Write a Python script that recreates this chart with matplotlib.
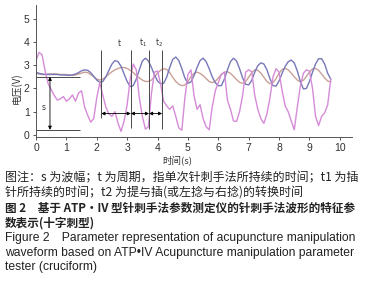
import numpy as np
import matplotlib.pyplot as plt

# time axis shared by all three traces (s)
time_s = np.round(np.arange(0, 9.75, 0.1), 2)

# blue trace (V)
volt_blue = [2.70, 2.65, 2.62, 2.60, 2.60, 2.60, 2.60, 2.60, 2.58, 2.58,
             2.57, 2.56, 2.58, 2.62, 2.68, 2.76, 2.80, 2.78, 2.68, 2.52,
             2.36, 2.26, 2.30, 2.50, 2.78, 3.05, 3.20, 3.15, 2.95, 2.62,
             2.30, 2.08, 2.12, 2.40, 2.80, 3.18, 3.30, 3.18, 2.90, 2.58,
             2.32, 2.20, 2.22, 2.48, 2.90, 3.25, 3.35, 3.20, 2.85, 2.45,
             2.22, 2.28, 2.55, 2.90, 3.20, 3.30, 3.15, 2.85, 2.50, 2.25,
             2.12, 2.12, 2.40, 2.80, 3.15, 3.30, 3.18, 2.85, 2.45, 2.18,
             2.15, 2.35, 2.70, 2.98, 3.10, 3.05, 2.80, 2.42, 2.12, 2.10,
             2.32, 2.65, 2.95, 3.15, 3.22, 3.10, 2.75, 2.30, 1.98, 2.00,
             2.30, 2.70, 3.05, 3.28, 3.28, 3.05, 2.65, 2.40]

# tan trace (V)
volt_tan = [2.65, 2.62, 2.60, 2.60, 2.62, 2.62, 2.63, 2.62, 2.60, 2.60,
            2.60, 2.58, 2.56, 2.58, 2.62, 2.66, 2.70, 2.68, 2.60, 2.50,
            2.40, 2.36, 2.40, 2.50, 2.62, 2.72, 2.80, 2.86, 2.90, 2.90,
            2.86, 2.78, 2.68, 2.56, 2.45, 2.36, 2.30, 2.30, 2.36, 2.50,
            2.66, 2.78, 2.85, 2.82, 2.68, 2.48, 2.30, 2.18, 2.12, 2.15,
            2.30, 2.50, 2.65, 2.70, 2.65, 2.55, 2.42, 2.30, 2.25, 2.30,
            2.45, 2.60, 2.70, 2.72, 2.65, 2.52, 2.38, 2.26, 2.22, 2.30,
            2.48, 2.68, 2.80, 2.78, 2.66, 2.48, 2.30, 2.20, 2.25, 2.42,
            2.65, 2.82, 2.86, 2.80, 2.66, 2.50, 2.36, 2.29, 2.35, 2.52,
            2.70, 2.84, 2.86, 2.78, 2.62, 2.45, 2.32, 2.28]

# magenta trace (V)
volt_magenta = [3.20, 3.55, 3.45, 2.75, 2.20, 1.95, 1.70, 1.50, 1.55, 1.65,
                1.45, 1.55, 1.72, 1.45, 1.80, 1.90, 1.20, 0.85, 0.55, 0.70,
                1.60, 2.25, 1.70, 1.20, 0.90, 0.80, 1.00, 0.50, 0.15, 0.60,
                1.30, 2.40, 3.05, 2.80, 1.60, 0.80, 0.25, 0.35, 1.80, 2.70,
                2.75, 2.20, 1.45, 1.25, 1.10, 1.25, 0.80, 0.30, 0.20, 1.60,
                2.60, 2.80, 1.70, 1.10, 1.30, 0.70, 0.35, 0.22, 1.20, 1.90,
                2.25, 2.60, 2.70, 1.50, 1.10, 0.60, 0.58, 1.00, 1.70, 2.70,
                2.80, 2.72, 1.70, 1.10, 0.70, 0.50, 0.90, 1.60, 2.50, 2.85,
                2.70, 1.90, 1.25, 1.00, 0.60, 0.22, 1.20, 2.10, 2.65, 2.80,
                2.75, 2.00, 0.80, 0.40, 0.80, 0.95, 1.30, 2.40]

# marker lines for the period annotations (s)
period_marks = [2.15, 3.12, 3.72, 4.15]
period_mark_bottoms = [0.72, 0.30, 0.25, 0.25]
period_labels = ["t", "t$_1$", "t$_2$"]

# amplitude annotation levels (V)
amp_top = 2.50
amp_bottom = 0.22

xticks = [0, 1, 2, 3, 4, 5, 6, 7, 8, 9, 10]
yticks = [0, 1, 2, 3, 4, 5]

caption_lines = [
    ("图注：s 为波幅；t 为周期，指单次针刺手法所持续的时间；t1 为插", 178, "normal", 8.65),
    ("针所持续的时间；t2 为提与插(或左捻与右捻)的转换时间", 192, "normal", 8.65),
    ("图 2　基于 ATP•IV 型针刺手法参数测定仪的针刺手法波形的特征参", 208, "bold", 8.35),
    ("数表示(十字刺型)", 223, "bold", 8.35),
]
caption_en = [
    ("Figure 2　Parameter representation of acupuncture manipulation", 238),
    ("waveform based on ATP•IV Acupuncture manipulation parameter", 253),
    ("tester (cruciform)", 267),
]

CJK = ['Noto Sans CJK SC', 'DejaVu Sans']
LATIN = ['Liberation Sans', 'Noto Sans CJK SC', 'DejaVu Sans']
LINE_C = '#4a4a4a'

W, H = 366, 300
fig = plt.figure(figsize=(W / 100, H / 100), dpi=100)
ax = fig.add_axes([36 / W, 1 - 137 / H, 316 / W, 132 / H])

ax.plot(time_s, volt_tan, color='#c9a096', lw=1.0)
ax.plot(time_s, volt_blue, color='#7778b8', lw=1.0)
ax.plot(time_s, volt_magenta, color='#d68bd8', lw=1.0)


def double_arrow(x0, y0, x1, y1):
    ax.annotate('', xy=(x1, y1), xytext=(x0, y0),
                arrowprops=dict(arrowstyle='<|-|>', color='black', lw=0.6,
                                mutation_scale=5, shrinkA=0, shrinkB=0))


# amplitude s
ax.hlines([amp_top, amp_bottom], 0, 1.45, color=LINE_C, lw=0.7)
double_arrow(0.46, amp_top, 0.46, amp_bottom)
ax.text(0.18, 1.2, "s", fontsize=5.5, color='#333333', va='center')

# period / t1 / t2
ax.vlines(period_marks, period_mark_bottoms, 3.66, color=LINE_C, lw=0.7)
for i in range(3):
    double_arrow(period_marks[i], 0.92, period_marks[i + 1], 0.92)
    xm = (period_marks[i] + period_marks[i + 1]) / 2
    ax.text(xm + 0.1, 3.95, period_labels[i], fontsize=5.5, color='#333333',
            ha='center', va='center')

ax.set_xlim(0, 10.4)
ax.set_ylim(-0.09, 5.59)
ax.set_xticks(xticks)
ax.set_yticks(yticks)
ax.spines['top'].set_visible(False)
ax.spines['right'].set_visible(False)
for s in ['left', 'bottom']:
    ax.spines[s].set_color('#555555')
    ax.spines[s].set_linewidth(0.7)
ax.tick_params(labelsize=7.5, length=2.5, width=0.7, color='#555555',
               labelcolor='#333333', pad=2)
for lab in ax.get_xticklabels() + ax.get_yticklabels():
    lab.set_family('Liberation Sans')

fig.text(177 / W, 1 - 161 / H, "时间(s)", family=CJK, fontsize=6.8,
         color='#333333', ha='center', va='center')
fig.text(16 / W, 1 - 88 / H, "电压(V)", family=CJK, fontsize=7,
         color='#333333', ha='center', va='center', rotation=90)

for txt, y, w, fs in caption_lines:
    fig.text(5 / W, 1 - y / H, txt, family=CJK, fontsize=fs, weight=w,
             color='#222222', ha='left', va='center')
for txt, y in caption_en:
    fig.text(5 / W, 1 - y / H, txt, family=LATIN,
             fontsize=8.75, color='#222222', ha='left', va='center')

fig.savefig('out.png', dpi=100)
